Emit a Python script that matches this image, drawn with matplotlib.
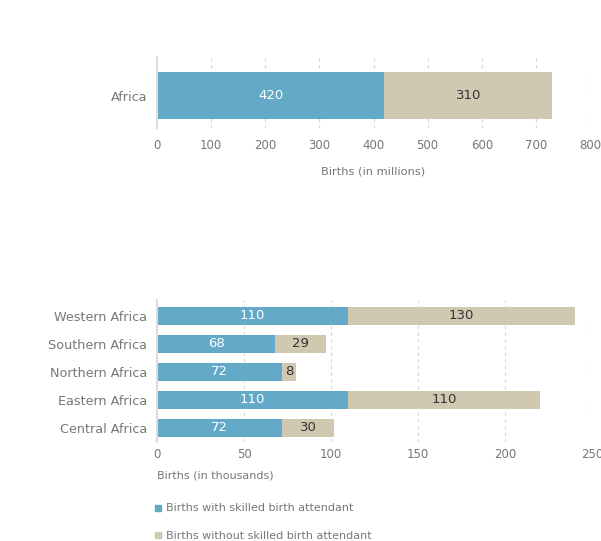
import matplotlib
matplotlib.use("Agg")
import matplotlib.pyplot as plt
from matplotlib.lines import Line2D

# data
TOTAL_REGION = ["Africa"]
TOTAL_SKILLED = [420]
TOTAL_UNSKILLED = [310]

REGIONS = ["Central Africa", "Eastern Africa", "Northern Africa", "Southern Africa", "Western Africa"]
SKILLED = [72, 110, 72, 68, 110]
UNSKILLED = [30, 110, 8, 29, 130]

TOP_TICKS = [0, 100, 200, 300, 400, 500, 600, 700, 800]
BOT_TICKS = [0, 50, 100, 150, 200, 250]

BLUE = "#63aac8"
BEIGE = "#d0c8b0"
GREY = "#777777"
W, H = 601, 541

plt.rcParams["font.family"] = ["DejaVu Sans"]


def style(ax, ticks):
    for s in ["top", "right", "bottom"]:
        ax.spines[s].set_visible(False)
    ax.spines["left"].set_color("#dddddd")
    ax.spines["left"].set_linewidth(1.5)
    ax.set_xticks(ticks)
    ax.tick_params(axis="x", length=0, colors=GREY, labelsize=8.5, pad=8)
    ax.tick_params(axis="y", length=0, colors=GREY, labelsize=9.2, pad=7)
    for t in ticks[1:]:
        ax.axvline(t, color="#d6d6d6", ls=(0, (3, 3)), lw=0.8, zorder=0)


def bars(ax, ys, skilled, unskilled, height, fs):
    ax.barh(ys, skilled, height=height, color=BLUE, zorder=2)
    ax.barh(ys, unskilled, left=skilled, height=height, color=BEIGE, zorder=2)
    for y, a, b in zip(ys, skilled, unskilled):
        ax.text(a / 2, y, str(a), ha="center", va="center", color="white", fontsize=fs, zorder=3)
        ax.text(a + b / 2, y, str(b), ha="center", va="center", color="#333333", fontsize=fs, zorder=3)


fig = plt.figure(figsize=(W / 100, H / 100), dpi=100)

# top chart
ax1 = fig.add_axes([157 / W, 1 - 128 / H, 433 / W, 71 / H])
style(ax1, TOP_TICKS)
bars(ax1, [0], TOTAL_SKILLED, TOTAL_UNSKILLED, 1.0, 9.5)
ax1.set_xlim(0, 800)
ax1.set_ylim(-0.69, 0.82)
ax1.set_yticks([0])
ax1.set_yticklabels(TOTAL_REGION)
ax1.set_xlabel("Births (in millions)", color=GREY, fontsize=8.2, labelpad=10)

# bottom chart
ax2 = fig.add_axes([157 / W, 1 - 442 / H, 435 / W, 142 / H])
style(ax2, BOT_TICKS)
ys = list(range(len(REGIONS)))
bars(ax2, ys, SKILLED, UNSKILLED, 0.625, 9.5)
ax2.set_xlim(0, 250)
ax2.set_ylim(-0.5, 4.57)
ax2.set_yticks(ys)
ax2.set_yticklabels(REGIONS)
ax2.tick_params(axis="x", pad=4)

fig.text(157 / W, 1 - 476 / H, "Births (in thousands)", color=GREY, fontsize=8,
         ha="left", va="center")

handles = [Line2D([], [], marker="s", ls="", color=BLUE, markersize=5),
           Line2D([], [], marker="s", ls="", color=BEIGE, markersize=5)]
leg = fig.legend(handles, ["Births with skilled birth attendant",
                           "Births without skilled birth attendant"],
                 loc="upper left", bbox_to_anchor=(150 / W, 1 - 499 / H),
                 frameon=False, handlelength=0.6, handletextpad=0.45,
                 labelspacing=1.6, fontsize=8, borderaxespad=0)
for t in leg.get_texts():
    t.set_color(GREY)

fig.savefig("out.png", dpi=100)
